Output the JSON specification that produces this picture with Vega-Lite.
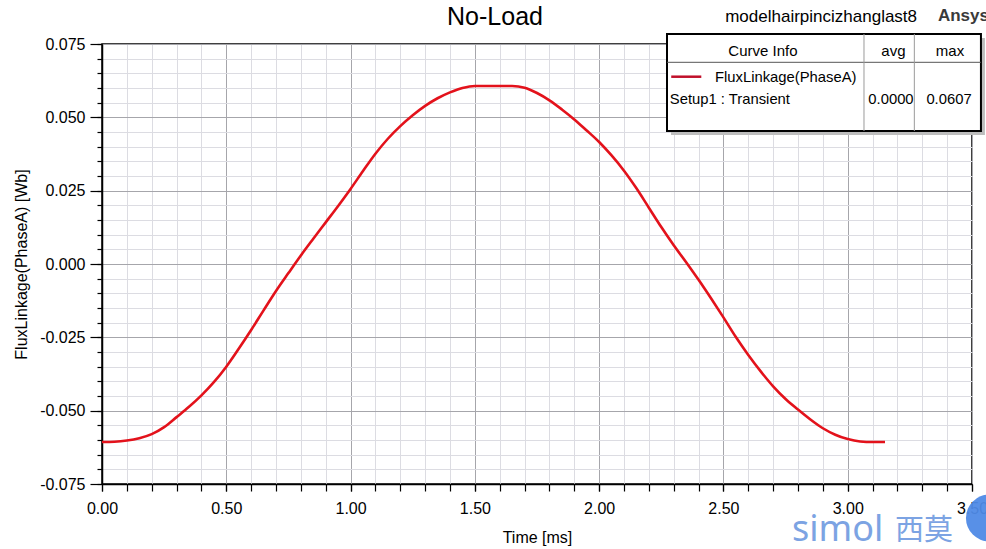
{
  "$schema": "https://vega.github.io/schema/vega-lite/v6.json",
  "width": 870,
  "height": 440,
  "autosize": "none",
  "padding": {"left": 102, "top": 44, "right": 14, "bottom": 65},
  "background": "white",
  "config": {
    "font": "Liberation Sans",
    "view": {"stroke": "black", "strokeWidth": 1.5}
  },
  "data": {"values": [
    {"t": 0.00, "flux": -0.0607}, {"t": 0.05, "flux": -0.0606}, {"t": 0.10, "flux": -0.0602}, {"t": 0.15, "flux": -0.0594},
    {"t": 0.20, "flux": -0.0580}, {"t": 0.25, "flux": -0.0556}, {"t": 0.30, "flux": -0.0522}, {"t": 0.35, "flux": -0.0487},
    {"t": 0.40, "flux": -0.0448}, {"t": 0.45, "flux": -0.0403}, {"t": 0.50, "flux": -0.0350}, {"t": 0.55, "flux": -0.0289},
    {"t": 0.60, "flux": -0.0225}, {"t": 0.65, "flux": -0.0158}, {"t": 0.70, "flux": -0.0092}, {"t": 0.75, "flux": -0.0031},
    {"t": 0.80, "flux": 0.0029}, {"t": 0.85, "flux": 0.0086}, {"t": 0.90, "flux": 0.0142}, {"t": 0.95, "flux": 0.0198},
    {"t": 1.00, "flux": 0.0256}, {"t": 1.05, "flux": 0.0317}, {"t": 1.10, "flux": 0.0376}, {"t": 1.15, "flux": 0.0427},
    {"t": 1.20, "flux": 0.0470}, {"t": 1.25, "flux": 0.0507}, {"t": 1.30, "flux": 0.0539}, {"t": 1.35, "flux": 0.0565},
    {"t": 1.40, "flux": 0.0585}, {"t": 1.45, "flux": 0.0600}, {"t": 1.50, "flux": 0.0607}, {"t": 1.55, "flux": 0.0607},
    {"t": 1.60, "flux": 0.0607}, {"t": 1.65, "flux": 0.0607}, {"t": 1.70, "flux": 0.0601}, {"t": 1.75, "flux": 0.0583},
    {"t": 1.80, "flux": 0.0558}, {"t": 1.85, "flux": 0.0527}, {"t": 1.90, "flux": 0.0493}, {"t": 1.95, "flux": 0.0455},
    {"t": 2.00, "flux": 0.0416}, {"t": 2.05, "flux": 0.0370}, {"t": 2.10, "flux": 0.0318}, {"t": 2.15, "flux": 0.0258},
    {"t": 2.20, "flux": 0.0192}, {"t": 2.25, "flux": 0.0126}, {"t": 2.30, "flux": 0.0064}, {"t": 2.35, "flux": 0.0006},
    {"t": 2.40, "flux": -0.0054}, {"t": 2.45, "flux": -0.0117}, {"t": 2.50, "flux": -0.0182}, {"t": 2.55, "flux": -0.0249},
    {"t": 2.60, "flux": -0.0310}, {"t": 2.65, "flux": -0.0366}, {"t": 2.70, "flux": -0.0417}, {"t": 2.75, "flux": -0.0460},
    {"t": 2.80, "flux": -0.0496}, {"t": 2.85, "flux": -0.0530}, {"t": 2.90, "flux": -0.0560}, {"t": 2.95, "flux": -0.0582},
    {"t": 3.00, "flux": -0.0597}, {"t": 3.05, "flux": -0.0605}, {"t": 3.10, "flux": -0.0607}, {"t": 3.15, "flux": -0.0607}
  ]},
  "resolve": {"axis": {"x": "independent", "y": "independent"}},
  "layer": [
    {
      "mark": {"type": "line", "opacity": 0},
      "encoding": {
        "x": {"field": "t", "type": "quantitative", "scale": {"domain": [0, 3.5], "nice": false, "zero": false},
          "axis": {"orient": "bottom", "values": [0,0.1,0.2,0.3,0.4,0.5,0.6,0.7,0.8,0.9,1,1.1,1.2,1.3,1.4,1.5,1.6,1.7,1.8,1.9,2,2.1,2.2,2.3,2.4,2.5,2.6,2.7,2.8,2.9,3,3.1,3.2,3.3,3.4,3.5],
            "labels": false, "title": null, "ticks": true, "tickSize": 7, "tickColor": "black", "tickWidth": 1.2, "domain": false,
            "grid": true, "gridColor": "#dcdce2", "gridWidth": 1, "gridOpacity": 1}},
        "y": {"field": "flux", "type": "quantitative", "scale": {"domain": [-0.075, 0.075], "nice": false, "zero": false},
          "axis": {"orient": "left", "values": [-0.075,-0.07,-0.065,-0.06,-0.055,-0.05,-0.045,-0.04,-0.035,-0.03,-0.025,-0.02,-0.015,-0.01,-0.005,0,0.005,0.01,0.015,0.02,0.025,0.03,0.035,0.04,0.045,0.05,0.055,0.06,0.065,0.07,0.075],
            "labels": false, "title": null, "ticks": true, "tickSize": 5, "tickColor": "black", "tickWidth": 1.2, "domain": false,
            "grid": true, "gridColor": "#dcdce2", "gridWidth": 1, "gridOpacity": 1}}
      }
    },
    {
      "mark": {"type": "line", "color": "#e3121b", "strokeWidth": 2.6, "interpolate": "monotone"},
      "encoding": {
        "x": {"field": "t", "type": "quantitative", "scale": {"domain": [0, 3.5], "nice": false, "zero": false},
          "axis": {"orient": "bottom", "values": [0,0.5,1,1.5,2,2.5,3,3.5], "format": ".2f",
            "labelFontSize": 16, "labelColor": "black", "labelFont": "Liberation Sans", "labelPadding": 9, "labelFlush": false,
            "tickSize": 7, "tickColor": "black", "tickWidth": 1.2, "domain": true, "domainColor": "black", "domainWidth": 1.5,
            "grid": true, "gridColor": "#a6a6ab", "gridWidth": 1, "gridOpacity": 1,
            "title": "Time [ms]", "titleFontSize": 16, "titleFontWeight": "normal", "titleColor": "black", "titleFont": "Liberation Sans", "titlePadding": 13}},
        "y": {"field": "flux", "type": "quantitative", "scale": {"domain": [-0.075, 0.075], "nice": false, "zero": false},
          "axis": {"orient": "left", "values": [-0.075,-0.05,-0.025,0,0.025,0.05,0.075],
            "labelExpr": "datum.value < 0 ? '-' + format(-datum.value, '.3f') : format(datum.value, '.3f')",
            "labelFontSize": 16, "labelColor": "black", "labelFont": "Liberation Sans", "labelPadding": 5, "labelFlush": false,
            "tickSize": 12, "tickColor": "black", "tickWidth": 1.2, "domain": true, "domainColor": "black", "domainWidth": 1.5,
            "grid": true, "gridColor": "#a6a6ab", "gridWidth": 1, "gridOpacity": 1,
            "title": "FluxLinkage(PhaseA) [Wb]", "titleFontSize": 16, "titleFontWeight": "normal", "titleColor": "black", "titleFont": "Liberation Sans", "titlePadding": 10}}
      }
    },
    {
      "data": {"values": [{"k": 1}]},
      "mark": {"type": "rect", "fill": "#bdbdbd", "stroke": null},
      "encoding": {
        "x": {"datum": 2.289, "type": "quantitative", "axis": null}, "x2": {"datum": 3.552},
        "y": {"datum": 0.07705, "type": "quantitative", "axis": null}, "y2": {"datum": 0.04398}
      }
    },
    {
      "data": {"values": [{"k": 1}]},
      "mark": {"type": "rect", "fill": "white", "stroke": "black", "strokeWidth": 2},
      "encoding": {
        "x": {"datum": 2.273, "type": "quantitative", "axis": null}, "x2": {"datum": 3.536},
        "y": {"datum": 0.07841, "type": "quantitative", "axis": null}, "y2": {"datum": 0.04534}
      }
    },
    {
      "data": {"values": [{"k": 1}]},
      "mark": {"type": "rule", "color": "#555555", "strokeWidth": 1},
      "encoding": {
        "x": {"datum": 2.273, "type": "quantitative", "axis": null}, "x2": {"datum": 3.536},
        "y": {"datum": 0.06876, "type": "quantitative", "axis": null}
      }
    },
    {
      "data": {"values": [{"k": 1}]},
      "mark": {"type": "rule", "color": "#9a9a9a", "strokeWidth": 1},
      "encoding": {
        "x": {"datum": 3.0655, "type": "quantitative", "axis": null},
        "y": {"datum": 0.07841, "type": "quantitative", "axis": null}, "y2": {"datum": 0.04534}
      }
    },
    {
      "data": {"values": [{"k": 1}]},
      "mark": {"type": "rule", "color": "#9a9a9a", "strokeWidth": 1},
      "encoding": {
        "x": {"datum": 3.268, "type": "quantitative", "axis": null},
        "y": {"datum": 0.07841, "type": "quantitative", "axis": null}, "y2": {"datum": 0.04534}
      }
    },
    {
      "data": {"values": [{"k": 1}]},
      "mark": {"type": "rule", "color": "#c0102a", "strokeWidth": 2.5},
      "encoding": {
        "x": {"datum": 2.290, "type": "quantitative", "axis": null}, "x2": {"datum": 2.411},
        "y": {"datum": 0.06385, "type": "quantitative", "axis": null}
      }
    },
    {
      "data": {"values": [{"label": "Curve Info"}]},
      "mark": {"type": "text", "font": "Liberation Sans", "fontSize": 15, "color": "black", "align": "center", "baseline": "middle"},
      "encoding": {"x": {"datum": 2.659, "type": "quantitative", "axis": null}, "y": {"datum": 0.07272, "type": "quantitative", "axis": null}, "text": {"field": "label"}}
    },
    {
      "data": {"values": [{"label": "avg"}]},
      "mark": {"type": "text", "font": "Liberation Sans", "fontSize": 15, "color": "black", "align": "center", "baseline": "middle"},
      "encoding": {"x": {"datum": 3.184, "type": "quantitative", "axis": null}, "y": {"datum": 0.07272, "type": "quantitative", "axis": null}, "text": {"field": "label"}}
    },
    {
      "data": {"values": [{"label": "max"}]},
      "mark": {"type": "text", "font": "Liberation Sans", "fontSize": 15, "color": "black", "align": "center", "baseline": "middle"},
      "encoding": {"x": {"datum": 3.4115, "type": "quantitative", "axis": null}, "y": {"datum": 0.07272, "type": "quantitative", "axis": null}, "text": {"field": "label"}}
    },
    {
      "data": {"values": [{"label": "FluxLinkage(PhaseA)"}]},
      "mark": {"type": "text", "font": "Liberation Sans", "fontSize": 14.8, "color": "black", "align": "left", "baseline": "middle"},
      "encoding": {"x": {"datum": 2.466, "type": "quantitative", "axis": null}, "y": {"datum": 0.06341, "type": "quantitative", "axis": null}, "text": {"field": "label"}}
    },
    {
      "data": {"values": [{"label": "Setup1 : Transient"}]},
      "mark": {"type": "text", "font": "Liberation Sans", "fontSize": 14.8, "color": "black", "align": "left", "baseline": "middle"},
      "encoding": {"x": {"datum": 2.2845, "type": "quantitative", "axis": null}, "y": {"datum": 0.05591, "type": "quantitative", "axis": null}, "text": {"field": "label"}}
    },
    {
      "data": {"values": [{"label": "0.0000"}]},
      "mark": {"type": "text", "font": "Liberation Sans", "fontSize": 14.8, "color": "black", "align": "center", "baseline": "middle"},
      "encoding": {"x": {"datum": 3.174, "type": "quantitative", "axis": null}, "y": {"datum": 0.05591, "type": "quantitative", "axis": null}, "text": {"field": "label"}}
    },
    {
      "data": {"values": [{"label": "0.0607"}]},
      "mark": {"type": "text", "font": "Liberation Sans", "fontSize": 14.8, "color": "black", "align": "center", "baseline": "middle"},
      "encoding": {"x": {"datum": 3.4075, "type": "quantitative", "axis": null}, "y": {"datum": 0.05591, "type": "quantitative", "axis": null}, "text": {"field": "label"}}
    },
    {
      "data": {"values": [{"label": "No-Load"}]},
      "mark": {"type": "text", "font": "Liberation Sans", "fontSize": 25, "color": "black", "align": "center", "baseline": "middle"},
      "encoding": {"x": {"datum": 1.581, "type": "quantitative", "axis": null}, "y": {"datum": 0.0842, "type": "quantitative", "axis": null}, "text": {"field": "label"}}
    },
    {
      "data": {"values": [{"label": "modelhairpincizhanglast8"}]},
      "mark": {"type": "text", "font": "Liberation Sans", "fontSize": 17, "color": "black", "align": "center", "baseline": "middle"},
      "encoding": {"x": {"datum": 2.893, "type": "quantitative", "axis": null}, "y": {"datum": 0.0842, "type": "quantitative", "axis": null}, "text": {"field": "label"}}
    },
    {
      "data": {"values": [{"label": "Ansys"}]},
      "mark": {"type": "text", "font": "Liberation Sans", "fontSize": 17, "fontWeight": "bold", "color": "#3a3a3a", "align": "left", "baseline": "middle"},
      "encoding": {"x": {"datum": 3.363, "type": "quantitative", "axis": null}, "y": {"datum": 0.0845, "type": "quantitative", "axis": null}, "text": {"field": "label"}}
    },
    {
      "data": {"values": [{"k": 1}]},
      "mark": {"type": "point", "shape": "circle", "filled": true, "color": "#4f8ae6", "size": 2200, "opacity": 0.95},
      "encoding": {"x": {"datum": 3.57, "type": "quantitative", "axis": null}, "y": {"datum": -0.0866, "type": "quantitative", "axis": null}}
    },
    {
      "data": {"values": [{"label": "simol"}]},
      "mark": {"type": "text", "font": "Noto Sans", "fontSize": 36, "color": "#6e9ae0", "opacity": 0.9, "align": "left", "baseline": "alphabetic"},
      "encoding": {"x": {"datum": 2.776, "type": "quantitative", "axis": null}, "y": {"datum": -0.0944, "type": "quantitative", "axis": null}, "text": {"field": "label"}}
    },
    {
      "data": {"values": [{"label": "西莫"}]},
      "mark": {"type": "text", "font": "Noto Sans CJK SC", "fontSize": 29, "color": "#6e9ae0", "opacity": 0.9, "align": "left", "baseline": "alphabetic"},
      "encoding": {"x": {"datum": 3.19, "type": "quantitative", "axis": null}, "y": {"datum": -0.0942, "type": "quantitative", "axis": null}, "text": {"field": "label"}}
    }
  ]
}
